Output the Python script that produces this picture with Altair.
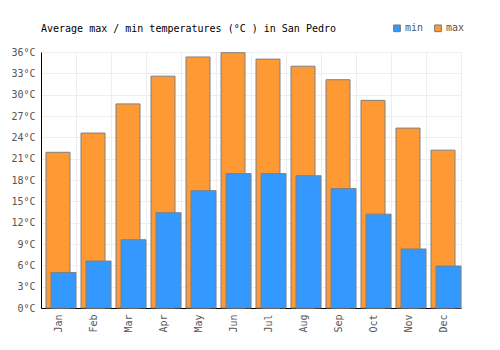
import altair as alt
import pandas as pd

months = ["Jan", "Feb", "Mar", "Apr", "May", "Jun", "Jul", "Aug", "Sep", "Oct", "Nov", "Dec"]
max_temps = [21.9, 24.6, 28.7, 32.6, 35.3, 35.9, 35.0, 34.0, 32.1, 29.2, 25.3, 22.2]
min_temps = [5.0, 6.6, 9.6, 13.4, 16.5, 18.9, 18.9, 18.6, 16.8, 13.2, 8.3, 5.9]
y_ticks = list(range(0, 37, 3))

rows = []
for m, mx, mn in zip(months, max_temps, min_temps):
    rows.append({"month": m, "series": "max", "value": mx})
    rows.append({"month": m, "series": "min", "value": mn})
df = pd.DataFrame(rows)

FONT = "DejaVu Sans Mono"

x_enc = alt.X("month:N", sort=months,
              scale=alt.Scale(paddingInner=0, paddingOuter=0),
              axis=alt.Axis(title=None, labelAngle=270, ticks=False, grid=True,
                            tickBand="extent", gridColor="#eeeeee",
                            domainColor="#000000", labelColor="#555555",
                            labelFont=FONT, labelFontSize=10, labelPadding=6))
y_enc = alt.Y("value:Q", scale=alt.Scale(domain=[0, 36], nice=False),
              axis=alt.Axis(title=None, values=y_ticks, labelExpr="datum.value + '°C'",
                            ticks=False, gridColor="#eeeeee", domainColor="#000000",
                            labelColor="#555555", labelFont=FONT, labelFontSize=10,
                            labelPadding=6))
color_enc = alt.Color("series:N",
                      scale=alt.Scale(domain=["min", "max"], range=["#3399ff", "#ff9933"]),
                      legend=alt.Legend(title=None, orient="none", direction="horizontal",
                                        legendX=351, legendY=-29, symbolType="square",
                                        symbolSize=45, symbolStrokeColor="#777777",
                                        symbolStrokeWidth=1, labelFont=FONT,
                                        labelFontSize=10, labelColor="#555555",
                                        labelOffset=3, columnPadding=8, symbolOffset=0))

base = alt.Chart(df).encode(x=x_enc, y=y_enc, color=color_enc)

max_bars = base.transform_filter(alt.datum.series == "max").mark_bar(
    width=24, xOffset=-0.5, stroke="#808080", strokeWidth=1)
min_bars = base.transform_filter(alt.datum.series == "min").mark_bar(
    width=25, xOffset=5, stroke="#808080", strokeWidth=1)

chart = alt.layer(max_bars, min_bars).properties(
    width=420, height=256,
    autosize=alt.AutoSizeParams(type="none"),
    padding={"left": 41, "top": 52, "right": 39, "bottom": 42},
    title=alt.TitleParams("Average max / min temperatures (°C ) in San Pedro",
                          anchor="start", frame="group", font=FONT, fontSize=10,
                          fontWeight="normal", color="#000000", offset=20, dy=31),
).configure_view(stroke=None)

chart.save("out.html", embed_options={"renderer": "svg", "actions": False})
